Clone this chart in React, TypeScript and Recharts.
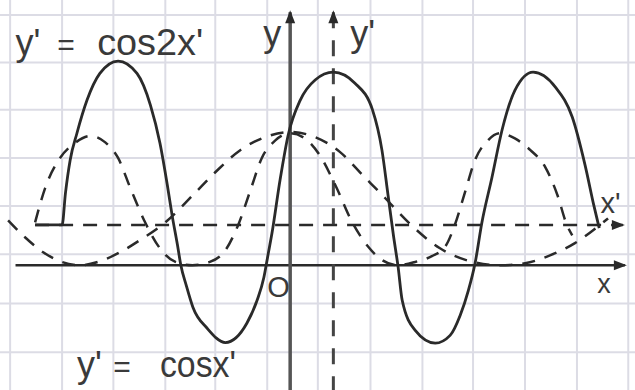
import { Line, LineChart, ReferenceDot, ReferenceLine, XAxis, YAxis } from 'recharts'

// x in radians (origin O), y in units of one; the sketch is loose.
const X_DOMAIN = [-4.3, 5.11]
const Y_DOMAIN = [-1.92, 4.08]

const GRID_X = [-4.15, -3.38, -2.62, -1.85, -1.11, -0.34, 0.41, 1.19, 1.96, 2.71, 3.48, 4.25, 5.01]
const GRID_Y = [3.85, 3.12, 2.39, 1.65, 0.91, 0.17, -0.59, -1.34]

// y' = cos2x' (solid)
const SOLID_X = [-3.78, -3.38, -3.33, -3.26, -3.16, -3.01, -2.82, -2.55, -2.27, -2.07, -1.93, -1.82, -1.75, -1.67, -1.62, -1.54, -1.44, -1.23, -0.96, -0.64, -0.49, -0.39, -0.33, -0.27, -0.15, -0.03, 0.15, 0.37, 0.64, 0.96, 1.22, 1.36, 1.45, 1.53, 1.6, 1.66, 1.85, 2.15, 2.37, 2.52, 2.64, 2.74, 2.84, 2.99, 3.14, 3.33, 3.6, 3.93, 4.18, 4.37, 4.5, 4.58]
const SOLID_Y = [0.62, 0.62, 1.11, 1.62, 2.03, 2.54, 2.95, 3.14, 2.95, 2.46, 1.88, 1.23, 0.77, 0.31, 0, -0.31, -0.65, -0.97, -1.19, -0.89, -0.54, -0.19, 0.15, 0.49, 1.31, 2.0, 2.54, 2.85, 2.97, 2.8, 2.39, 1.77, 1.08, 0.46, -0.03, -0.54, -1.0, -1.2, -1.08, -0.77, -0.39, 0.03, 0.65, 1.35, 2.08, 2.69, 2.97, 2.74, 2.28, 1.54, 0.92, 0.57]

// wide dashed curve
const WIDE_X = [-4.18, -3.93, -3.66, -3.41, -3.11, -2.82, -2.52, -2.22, -1.85, -1.44, -1.11, -0.74, -0.37, 0, 0.37, 0.74, 1.07, 1.41, 1.78, 2.22, 2.67, 3.11, 3.48, 3.85, 4.22, 4.59, 4.71]
const WIDE_Y = [0.69, 0.43, 0.2, 0.06, 0, 0.06, 0.2, 0.39, 0.66, 1.08, 1.43, 1.77, 1.97, 2.05, 1.97, 1.74, 1.39, 1.03, 0.63, 0.26, 0.06, 0, 0.03, 0.15, 0.34, 0.62, 0.72]

// narrow dashed curve
const NARROW_X = [-3.78, -3.63, -3.41, -3.19, -2.96, -2.74, -2.55, -2.37, -2.15, -1.93, -1.7, -1.45, -1.19, -0.96, -0.77, -0.59, -0.42, -0.22, 0, 0.22, 0.44, 0.67, 0.92, 1.16, 1.36, 1.59, 1.85, 2.1, 2.3, 2.44, 2.59, 2.74, 2.93, 3.11, 3.33, 3.56, 3.78, 3.96, 4.1, 4.18]
const NARROW_Y = [0.66, 1.19, 1.65, 1.88, 1.99, 1.89, 1.65, 1.19, 0.66, 0.26, 0.05, 0, 0.05, 0.23, 0.62, 1.15, 1.65, 1.92, 2.03, 1.95, 1.69, 1.23, 0.66, 0.28, 0.08, 0, 0.05, 0.14, 0.29, 0.62, 1.12, 1.62, 1.92, 2.03, 1.95, 1.77, 1.51, 1.08, 0.62, 0.46]

const X_AXIS = { y: 0, from: -4.07, to: 4.96 }
const Y_AXIS = { x: 0, from: 3.89, to: -1.92 }
const X_PRIME_AXIS = { y: 0.62, from: -3.78, to: 4.93 }
const Y_PRIME_AXIS = { x: 0.64, from: 3.89, to: -1.92 }

const INK = '#2a2a2a'
const TEXT = '#3a3a3a'
const GRID = '#dcdce5'

const zip = (xs: number[], ys: number[]) => xs.map((x, i) => ({ x, y: ys[i] }))
const solid = zip(SOLID_X, SOLID_Y)
const wide = zip(WIDE_X, WIDE_Y)
const narrow = zip(NARROW_X, NARROW_Y)

type Pt = { cx?: number; cy?: number }

const arrow = (dir: 'up' | 'right') => ({ cx = 0, cy = 0 }: Pt) =>
  dir === 'up' ? (
    <path d={`M${cx},${cy - 2} L${cx - 5},${cy + 11} L${cx + 5},${cy + 11} Z`} fill={INK} />
  ) : (
    <path d={`M${cx + 2},${cy} L${cx - 11},${cy - 5} L${cx - 11},${cy + 5} Z`} fill={INK} />
  )

const label = (text: string, size: number, length?: number) => ({ cx = 0, cy = 0 }: Pt) => (
  <text
    x={cx}
    y={cy}
    fontSize={size}
    fontFamily="Liberation Sans, Arial, sans-serif"
    fill={TEXT}
    textLength={length}
    lengthAdjust={length ? 'spacingAndGlyphs' : undefined}
  >
    {text}
  </text>
)

const curve = { type: 'monotone' as const, stroke: INK, dot: false, activeDot: false, strokeLinecap: 'butt' as const, isAnimationActive: false }

export default function App() {
  return (
    <div style={{ width: 635, height: 390, background: '#fff' }}>
      <style>{'body{margin:0}'}</style>
      <LineChart width={635} height={390} margin={{ top: 0, right: 0, bottom: 0, left: 0 }}>
        <XAxis type="number" dataKey="x" domain={X_DOMAIN} hide allowDataOverflow />
        <YAxis type="number" dataKey="y" domain={Y_DOMAIN} hide allowDataOverflow />

        {GRID_X.map((x) => (
          <ReferenceLine key={`gx${x}`} x={x} stroke={GRID} strokeWidth={2} />
        ))}
        {GRID_Y.map((y) => (
          <ReferenceLine key={`gy${y}`} y={y} stroke={GRID} strokeWidth={2} />
        ))}

        <ReferenceLine
          segment={[{ x: X_AXIS.from, y: X_AXIS.y }, { x: X_AXIS.to, y: X_AXIS.y }]}
          stroke={INK}
          strokeWidth={2.5}
        />
        <ReferenceLine
          segment={[{ x: Y_AXIS.x, y: Y_AXIS.from }, { x: Y_AXIS.x, y: Y_AXIS.to }]}
          stroke="#555"
          strokeWidth={3.5}
        />
        <ReferenceLine
          segment={[{ x: X_PRIME_AXIS.from, y: X_PRIME_AXIS.y }, { x: X_PRIME_AXIS.to, y: X_PRIME_AXIS.y }]}
          stroke={INK}
          strokeWidth={2.5}
          strokeDasharray="14 10"
        />
        <ReferenceLine
          segment={[{ x: Y_PRIME_AXIS.x, y: Y_PRIME_AXIS.from }, { x: Y_PRIME_AXIS.x, y: Y_PRIME_AXIS.to }]}
          stroke="#444"
          strokeWidth={3}
          strokeDasharray="16 12"
        />

        <Line data={wide} dataKey="y" {...curve} strokeWidth={2.5} strokeDasharray="13 10" />
        <Line data={narrow} dataKey="y" {...curve} strokeWidth={2.5} strokeDasharray="13 10" />
        <Line data={solid} dataKey="y" {...curve} strokeWidth={2.8} />

        <ReferenceDot x={Y_AXIS.x} y={Y_AXIS.from} shape={arrow('up')} />
        <ReferenceDot x={Y_PRIME_AXIS.x} y={Y_PRIME_AXIS.from} shape={arrow('up')} />
        <ReferenceDot x={X_AXIS.to} y={X_AXIS.y} shape={arrow('right')} />
        <ReferenceDot x={X_PRIME_AXIS.to} y={X_PRIME_AXIS.y} shape={arrow('right')} />

        <ReferenceDot x={-4.07} y={3.23} shape={label("y'", 36)} />
        <ReferenceDot x={-3.45} y={3.23} shape={label('=', 30)} />
        <ReferenceDot x={-2.86} y={3.23} shape={label("cos2x'", 36, 106)} />
        <ReferenceDot x={-3.16} y={-1.72} shape={label("y'", 36)} />
        <ReferenceDot x={-2.62} y={-1.72} shape={label('=', 30)} />
        <ReferenceDot x={-1.93} y={-1.72} shape={label("cosx'", 36, 76)} />
        <ReferenceDot x={-0.4} y={3.38} shape={label('y', 36)} />
        <ReferenceDot x={0.89} y={3.38} shape={label("y'", 36)} />
        <ReferenceDot x={-0.34} y={-0.49} shape={label('O', 29)} />
        <ReferenceDot x={4.6} y={0.8} shape={label("x'", 29)} />
        <ReferenceDot x={4.55} y={-0.43} shape={label('x', 27)} />
      </LineChart>
    </div>
  )
}
